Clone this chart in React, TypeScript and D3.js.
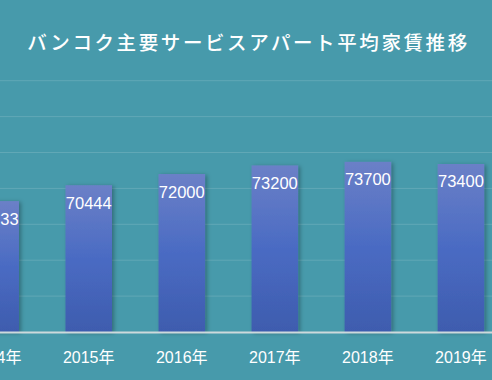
import React from "react";
import * as d3 from "d3";

const years = ["2014年", "2015年", "2016年", "2017年", "2018年", "2019年"];
const rents = [68233, 70444, 72000, 73200, 73700, 73400];
const gridValues = [55000, 60000, 65000, 70000, 75000, 80000, 85000];
const title = "バンコク主要サービスアパート平均家賃推移";

const W = 492;
const H = 380;

export default function App() {
  const x = d3.scalePoint<string>().domain(years).range([-4.3, 460.9]).padding(0);
  const step = x.step();
  const bw = step * 0.5;
  const y = d3.scaleLinear().domain([50000, 85000]).range([332, 80.7]);
  const latin = "'Liberation Sans', Arial, 'Noto Sans CJK JP', sans-serif";

  return (
    <div style={{ position: "fixed", left: 0, top: 0, width: W, height: H }}>
      <svg width={W} height={H} style={{ display: "block" }}>
        <defs>
          <linearGradient id="barGrad" x1="0" y1="0" x2="0" y2="1">
            <stop offset="0%" stopColor="#6b80c7" />
            <stop offset="50%" stopColor="#4a6bc3" />
            <stop offset="100%" stopColor="#3e5cae" />
          </linearGradient>
          <filter id="shadow" x="-30%" y="-10%" width="160%" height="120%">
            <feDropShadow dx="2" dy="1" stdDeviation="2" floodColor="#000" floodOpacity="0.3" />
          </filter>
        </defs>
        <rect x={0} y={0} width={W} height={H} fill="#479aab" />
        {gridValues.map((v) => (
          <line key={v} x1={0} x2={W} y1={y(v)} y2={y(v)} stroke="#ffffff" strokeOpacity={0.14} strokeWidth={1} />
        ))}
        {years.map((yr, i) => {
          const cx = x(yr)!;
          const top = y(rents[i]);
          return (
            <g key={yr}>
              <rect
                x={cx - bw / 2}
                y={top}
                width={bw}
                height={y(50000) - top}
                fill="url(#barGrad)"
                filter="url(#shadow)"
              />
              <text
                x={cx}
                y={top + 23.5}
                textAnchor="middle"
                fill="#ffffff"
                fontSize={16.5}
                fontFamily={latin}
              >
                {rents[i]}
              </text>
              <text
                x={cx}
                y={363}
                textAnchor="middle"
                fill="#ffffff"
                fontSize={16}
                fontFamily={latin}
              >
                {yr}
              </text>
            </g>
          );
        })}
        <line x1={0} x2={W} y1={y(50000) + 0.5} y2={y(50000) + 0.5} stroke="#cdd9dc" strokeWidth={2} />
        <text
          x={248.5}
          y={50}
          textAnchor="middle"
          fill="#ffffff"
          fontSize={19.5}
          fontWeight={500}
          letterSpacing={2.6}
          fontFamily="'Noto Sans CJK JP', sans-serif"
        >
          {title}
        </text>
      </svg>
    </div>
  );
}
